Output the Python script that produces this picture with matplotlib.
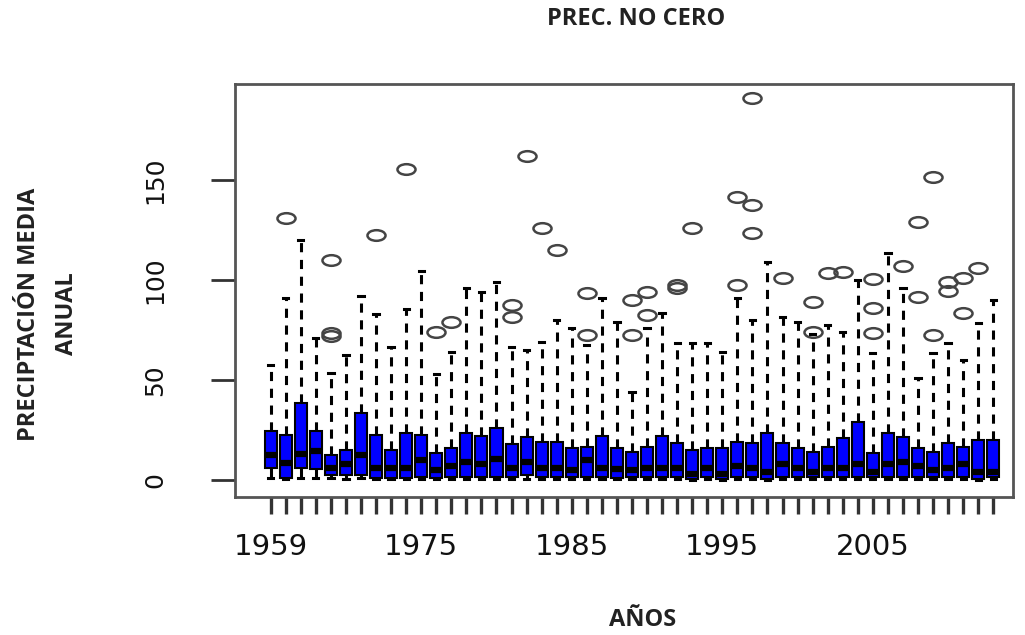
import numpy as np
import matplotlib
matplotlib.use("Agg")
import matplotlib.pyplot as plt
from matplotlib.path import Path
from matplotlib.transforms import Affine2D

# Box statistics (one entry per box)
whis_hi = [57.5, 90.8, 120, 70.8, 53.3, 62.5, 92, 82.8, 66.7, 85.3,
           104.5, 53, 64.2, 95.8, 94, 99, 66.7, 65, 69.2, 80,
           75.8, 67.5, 90.8, 79.2, 44.2, 75.8, 83.3, 68.3, 68.3, 68.3,
           64.2, 90.8, 80, 109.2, 81.7, 79.2, 73, 77.5, 74.2, 100,
           63.3, 113.3, 95.8, 50.8, 63.3, 68.3, 60, 78.3, 90]
q3 = [24.5, 22.5, 38.7, 24.5, 12.5, 15.2, 33.5, 22.7, 15.2, 23.5,
      22.5, 13.7, 15.8, 23.3, 22, 25.8, 18, 21.3, 19.2, 19.2,
      15.8, 16.7, 22, 15.8, 14.2, 16.7, 22, 18.3, 15, 15.8,
      15.8, 19.2, 18.7, 23.3, 18.3, 15.8, 14.2, 16.7, 20.8, 29,
      13.3, 23.3, 21.7, 15.8, 14.2, 18.3, 16.7, 20, 20]
med = [12.5, 8.3, 13, 14.5, 6, 8, 12.5, 6, 6, 6,
       10, 5, 7, 9, 8, 10.5, 6, 9, 6, 6,
       5, 10, 6, 5.5, 5, 6, 6, 6, 3, 6,
       3, 7, 6, 4, 8, 6, 4, 6, 6, 8,
       4, 8, 9, 7, 5, 6, 8, 4, 4]
q1 = [5.8, 0.8, 5.8, 5.3, 2.5, 2.5, 2.5, 0.8, 0.8, 0.8,
      1.7, 0.8, 1.7, 1.7, 1.7, 1.7, 1.7, 2.5, 1.7, 1.7,
      1.7, 1.7, 1.7, 0.8, 1.7, 1.7, 1.7, 1.7, 0.5, 1.7,
      0.5, 1.7, 1.7, 0.5, 1.7, 1.7, 1.7, 1.7, 1.7, 1.7,
      1.7, 1.7, 1.7, 1.7, 1.7, 1.7, 1.7, 0.5, 1.7]
whis_lo = [0.8, 0.5, 0.8, 0.8, 0.8, 0.5, 0.8, 0.5, 0.5, 0.5,
           0.5, 0.5, 0.5, 0.5, 0.5, 0.5, 0.5, 0.5, 0.5, 0.5,
           0.5, 0.5, 0.5, 0.5, 0.5, 0.5, 0.5, 0.5, 0, 0.5,
           0, 0.5, 0.5, 0, 0.5, 0.5, 0.5, 0.5, 0.5, 0.5,
           0.5, 0.5, 0.5, 0.5, 0.5, 0.5, 0.5, 0, 0.5]
outliers = [[], [131], [], [], [110, 72, 73.5], [], [], [122.5], [], [155.5],
            [], [74], [79], [], [], [], [87.5, 81.7], [162], [126], [115],
            [], [93.3, 72.5], [], [], [90, 72.5], [94.2, 82.5], [], [97.5, 95.8], [125.8], [],
            [], [97.5, 141.7], [190.8, 137.5, 123.3], [], [101.2], [], [89.2, 74.2], [103.7], [104.2], [],
            [100.3, 85.8, 73.3], [], [107.2], [129.2, 91.7], [151.7, 72.5], [99.2, 94.7], [101.2, 83.3], [105.8], []]

tick_labels = ["1959", "1975", "1985", "1995", "2005"]
tick_label_pos = [1, 11, 21, 31, 41]

n = len(med)
positions = np.arange(1, n + 1)

stats = []
for i in range(n):
    stats.append(dict(med=med[i], q1=q1[i], q3=q3[i],
                      whislo=whis_lo[i], whishi=whis_hi[i], fliers=outliers[i]))

# stretched circle, like the squashed R picture
ellipse = Path.unit_circle().transformed(Affine2D().scale(1.7, 1.0))

fig = plt.figure(figsize=(10.25, 6.35), dpi=100)
ax = fig.add_axes([235 / 1025, 1 - 497 / 635, (1013 - 235) / 1025, (497 - 84) / 635])

ax.bxp(stats, positions=positions, widths=0.8, capwidths=0.35, patch_artist=True,
       boxprops=dict(facecolor="#0000ff", edgecolor="black", linewidth=1.5),
       medianprops=dict(color="black", linewidth=4.5, solid_capstyle="butt"),
       whiskerprops=dict(color="black", linewidth=2.2, linestyle=(0, (3, 2.5))),
       capprops=dict(color="black", linewidth=2.2),
       flierprops=dict(marker=ellipse, markersize=13, markerfacecolor="none",
                       markeredgecolor="#444444", markeredgewidth=1.8, linestyle="none"))

ax.set_xlim(-1.37, 50.31)
ax.set_ylim(-8.5, 198)

for s in ax.spines.values():
    s.set_color("#555555")
    s.set_linewidth(2)

labels = []
for p in positions:
    labels.append(tick_labels[tick_label_pos.index(p)] if p in tick_label_pos else "")
ax.set_xticks(positions)
ax.set_xticklabels(labels, fontsize=21, color="#111111", family="DejaVu Sans")
ax.tick_params(axis="x", length=12, width=2.4, color="#333333", pad=14)

ax.set_yticks([0, 50, 100, 150])
ax.set_yticklabels(["0", "50", "100", "150"], fontsize=18, color="#111111",
                   family="DejaVu Sans", rotation=90, va="center")
ax.tick_params(axis="y", length=17, width=2, color="#333333", pad=32)

fig.text(636 / 1025, 1 - 19 / 635, "PREC. NO CERO", ha="center", va="center",
         fontsize=17, family="Open Sans", fontweight="bold", color="#222222")
fig.text(643 / 1025, 1 - 620 / 635, "AÑOS", ha="center", va="center",
         fontsize=17, family="Open Sans", fontweight="bold", color="#222222")
fig.text(48 / 1025, 1 - 314 / 635, "PRECIPTACIÓN MEDIA\nANUAL", ha="center", va="center",
         rotation=90, fontsize=17, family="Open Sans", fontweight="bold",
         color="#222222", linespacing=1.75, multialignment="center")

fig.savefig("out.png", dpi=100)
